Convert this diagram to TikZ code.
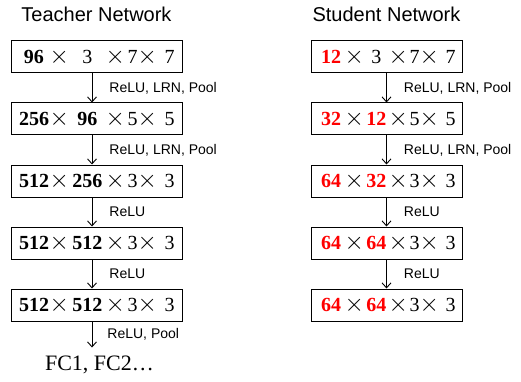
\documentclass[tikz,border=0pt]{standalone}
\usepackage{fontspec}
\usepackage{xcolor}
\usepackage{tikz}
\usetikzlibrary{positioning,arrows.meta}
\setmainfont{Liberation Serif}
\setsansfont{Liberation Sans}
\definecolor{netred}{HTML}{FF0000}
\newcommand{\bytimes}{\makebox[19.5pt][c]{\fontsize{25}{30}\selectfont$\times$}}
\newcommand{\stud}[1]{\textcolor{netred}{\textbf{#1}}}
\newcommand{\tdims}[4]{\makebox[31pt][c]{\textbf{#1}}\bytimes\makebox[36.5pt][c]{#2}\bytimes\hspace{2.5pt}#3\bytimes\hspace{7.5pt}#4}
\newcommand{\sdims}[4]{\makebox[27pt][c]{\stud{#1}}\bytimes\makebox[24.5pt][c]{#2}\bytimes\hspace{1.5pt}#3\bytimes\hspace{6.5pt}#4}

\begin{document}
\begin{tikzpicture}[x=1pt, y=1pt,
    title/.style={font=\sffamily\fontsize{20}{24}\selectfont},
    layer/.style={draw, line width=1pt, minimum height=32pt, inner sep=0pt,
      font=\fontsize{20}{24}\selectfont},
    tlayer/.style={layer, minimum width=171pt},
    slayer/.style={layer, minimum width=151pt},
    flow/.style={line width=0.9pt, -{Straight Barb[length=5pt,width=9pt]}},
    op/.style={right=17pt, inner sep=0pt, font=\sffamily\fontsize{14}{16}\selectfont}
  ]
  \useasboundingbox (0,0) rectangle (521,-382);

  \node[title] (tTitle) at (96.5,-14) {Teacher Network};
  \node[title] (sTitle) at (386.5,-14) {Student Network};

  \node[tlayer] (t1) at (96.5,-57) {\tdims{96}{3}{7}{7}};
  \node[tlayer, below=29pt of t1] (t2) {\tdims{256}{\textbf{96}}{5}{5}};
  \node[tlayer, below=29pt of t2] (t3) {\tdims{512}{\textbf{256}}{3}{3}};
  \node[tlayer, below=29pt of t3] (t4) {\tdims{512}{\textbf{512}}{3}{3}};
  \node[tlayer, below=29pt of t4] (t5) {\tdims{512}{\textbf{512}}{3}{3}};
  \node[inner xsep=0pt, inner ysep=8pt, font=\fontsize{22}{26}\selectfont,
    below=26pt of t5, xshift=3pt] (fc) {FC1, FC2…};

  \node[slayer] (s1) at (386.5,-57) {\sdims{12}{3}{7}{7}};
  \node[slayer, below=29pt of s1] (s2) {\sdims{32}{\stud{12}}{5}{5}};
  \node[slayer, below=29pt of s2] (s3) {\sdims{64}{\stud{32}}{3}{3}};
  \node[slayer, below=29pt of s3] (s4) {\sdims{64}{\stud{64}}{3}{3}};
  \node[slayer, below=29pt of s4] (s5) {\sdims{64}{\stud{64}}{3}{3}};

  \draw[flow] ([xshift=-4.5pt]t1.south) -- ([xshift=-4.5pt]t2.north) node[op, midway] {ReLU, LRN, Pool};
  \draw[flow] ([xshift=-4.5pt]t2.south) -- ([xshift=-4.5pt]t3.north) node[op, midway] {ReLU, LRN, Pool};
  \draw[flow] ([xshift=-4.5pt]t3.south) -- ([xshift=-4.5pt]t4.north) node[op, midway] {ReLU};
  \draw[flow] ([xshift=-4.5pt]t4.south) -- ([xshift=-4.5pt]t5.north) node[op, midway] {ReLU};
  \draw[flow] ([xshift=-4.5pt]t5.south) -- ([xshift=-4.5pt]t5.south |- fc.north) node[op, midway, right=15pt] {ReLU, Pool};

  \draw[flow] (s1) -- (s2) node[op, midway] {ReLU, LRN, Pool};
  \draw[flow] (s2) -- (s3) node[op, midway] {ReLU, LRN, Pool};
  \draw[flow] (s3) -- (s4) node[op, midway] {ReLU};
  \draw[flow] (s4) -- (s5) node[op, midway] {ReLU};
\end{tikzpicture}
\end{document}
